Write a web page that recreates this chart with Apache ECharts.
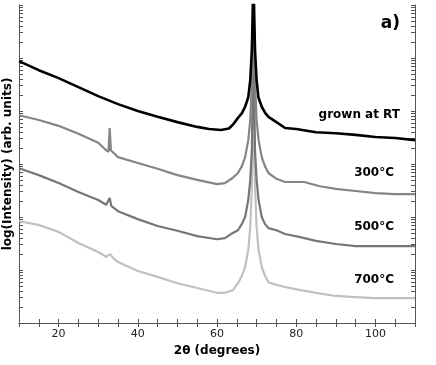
<!DOCTYPE html>
<html>
<head>
<meta charset="utf-8">
<script src="https://cdn.jsdelivr.net/npm/echarts@6/dist/echarts.min.js"></script>
<style>
  html, body { margin: 0; padding: 0; background: #fff; }
  #chart { width: 436px; height: 365px; }
</style>
</head>
<body>
<div id="chart"></div>
<script>
// 2theta (degrees) and log10(intensity) in decades
const rtTheta = [10, 15, 20, 25, 30, 35, 40, 45, 50, 55, 58, 61, 63, 64, 65.3, 66.3, 67.1, 67.9, 68.4, 68.8, 69.0, 69.2, 69.4, 69.6, 70.0, 70.45, 71.3, 72.2, 73, 75, 77.2, 80, 85, 90, 95, 100, 105, 110];
const rtLog   = [4.94, 4.77, 4.62, 4.45, 4.28, 4.13, 4.00, 3.89, 3.79, 3.70, 3.66, 3.64, 3.67, 3.74, 3.87, 3.96, 4.08, 4.26, 4.58, 5.15, 5.81, 6.66, 5.81, 5.15, 4.58, 4.26, 4.08, 3.96, 3.89, 3.79, 3.68, 3.66, 3.60, 3.58, 3.55, 3.51, 3.49, 3.45];

const t300Theta = [10, 15, 20, 25, 30, 32, 32.6, 32.9, 33.2, 35, 40, 45, 50, 55, 60, 62, 64, 65.3, 66.3, 67.1, 67.9, 68.4, 68.8, 69.0, 69.2, 69.4, 69.6, 70.0, 70.5, 71.3, 72.1, 73, 75, 77.2, 82, 86, 90, 95, 100, 105, 110];
const t300Log   = [3.92, 3.83, 3.72, 3.57, 3.40, 3.26, 3.23, 3.68, 3.26, 3.13, 3.02, 2.91, 2.79, 2.70, 2.62, 2.64, 2.74, 2.83, 2.96, 3.13, 3.45, 3.83, 4.53, 5.34, 5.94, 5.34, 4.53, 3.83, 3.45, 3.13, 2.96, 2.83, 2.72, 2.66, 2.66, 2.58, 2.53, 2.49, 2.45, 2.43, 2.43];

const t500Theta = [10, 15, 20, 25, 30, 32, 32.9, 33.3, 35, 40, 45, 50, 55, 60, 62, 64, 65.3, 66.3, 67.1, 67.9, 68.4, 68.8, 69.0, 69.2, 69.4, 69.6, 70.0, 70.5, 71.3, 72.1, 73, 75, 77.2, 81, 85, 90, 95, 100, 105, 110];
const t500Log   = [2.92, 2.79, 2.64, 2.47, 2.32, 2.23, 2.36, 2.21, 2.11, 1.96, 1.83, 1.74, 1.64, 1.58, 1.60, 1.70, 1.75, 1.87, 2.00, 2.32, 2.70, 3.26, 4.21, 5.25, 4.21, 3.26, 2.70, 2.32, 2.00, 1.87, 1.79, 1.75, 1.68, 1.62, 1.55, 1.49, 1.45, 1.45, 1.45, 1.45];

const t700Theta = [10, 15, 20, 25, 30, 32, 33, 34, 35, 40, 45, 50, 55, 60, 62, 64, 65.3, 66.3, 67.1, 67.9, 68.4, 68.8, 69.0, 69.2, 69.4, 69.6, 70.0, 70.5, 71.3, 72.1, 73, 75, 77.2, 81, 85, 90, 95, 100, 105, 110];
const t700Log   = [1.92, 1.85, 1.72, 1.51, 1.34, 1.25, 1.30, 1.21, 1.15, 0.98, 0.87, 0.75, 0.66, 0.57, 0.57, 0.62, 0.75, 0.89, 1.06, 1.38, 1.81, 2.57, 3.40, 4.49, 3.40, 2.57, 1.81, 1.38, 1.06, 0.89, 0.77, 0.72, 0.68, 0.62, 0.57, 0.51, 0.49, 0.47, 0.47, 0.47];

const xTickLabels = [20, 40, 60, 80, 100];
const curveNames = ['grown at RT', '300\u00B0C', '500\u00B0C', '700\u00B0C'];

function pairs(xs, ys) { return xs.map((x, i) => [x, ys[i]]); }

// log axis ticks: 1..9 in every decade
const yTicks = [];
for (let n = 0; n < 6; n++) for (let k = 1; k < 10; k++) yTicks.push(n + Math.log10(k));
yTicks.push(6);

const font = 'DejaVu Sans';
const axisColor = '#555';

const chart = echarts.init(document.getElementById('chart'));

const xCommon = {
  type: 'value', min: 10, max: 110, interval: 5,
  axisLine: { lineStyle: { color: axisColor } },
  axisTick: { inside: true, length: 4, lineStyle: { color: axisColor } },
  splitLine: { show: false }
};
const yCommon = {
  type: 'value', min: 0, max: 6,
  axisLine: { show: true, lineStyle: { color: axisColor } },
  axisTick: { show: true, inside: true, length: 4, customValues: yTicks, lineStyle: { color: axisColor } },
  axisLabel: { show: false },
  splitLine: { show: false }
};

function line(name, data, color, width, z) {
  return {
    name: name, type: 'line', data: data, showSymbol: false, symbol: 'none',
    lineStyle: { color: color, width: width }, z: z, animation: false
  };
}

chart.setOption({
  animation: false,
  grid: { left: 19, right: 21, top: 5, bottom: 42, outerBoundsMode: 'none', containLabel: false },
  xAxis: [
    Object.assign({}, xCommon, {
      position: 'bottom',
      name: '2\u03B8 (degrees)', nameLocation: 'middle', nameGap: 20,
      nameTextStyle: { fontFamily: font, fontWeight: 'bold', fontSize: 12, color: '#000' },
      axisLabel: {
        fontFamily: font, fontSize: 11, color: '#222', margin: 6,
        formatter: v => xTickLabels.indexOf(v) >= 0 ? String(v) : ''
      }
    }),
    Object.assign({}, xCommon, { position: 'top', axisLabel: { show: false } })
  ],
  yAxis: [
    Object.assign({}, yCommon, {
      position: 'left',
      name: 'log(Intensity) (arb. units)', nameLocation: 'middle', nameGap: 5,
      nameTextStyle: { fontFamily: font, fontWeight: 'bold', fontSize: 12, color: '#000' }
    }),
    Object.assign({}, yCommon, { position: 'right' })
  ],
  series: [
    line(curveNames[3], pairs(t700Theta, t700Log), '#c0c0c0', 2.2, 1),
    line(curveNames[2], pairs(t500Theta, t500Log), '#767676', 2.2, 2),
    line(curveNames[1], pairs(t300Theta, t300Log), '#858585', 2.2, 3),
    line(curveNames[0], pairs(rtTheta, rtLog), '#000000', 2.6, 4)
  ],
  graphic: [
    { type: 'text', right: 36, top: 15, style: { text: 'a)', font: 'bold 17px "DejaVu Sans"', fill: '#000' } },
    { type: 'text', right: 36, top: 109, style: { text: curveNames[0], font: 'bold 12px "DejaVu Sans"', fill: '#000' } },
    { type: 'text', right: 42, top: 167, style: { text: curveNames[1], font: 'bold 12px "DejaVu Sans"', fill: '#000' } },
    { type: 'text', right: 42, top: 221, style: { text: curveNames[2], font: 'bold 12px "DejaVu Sans"', fill: '#000' } },
    { type: 'text', right: 42, top: 274, style: { text: curveNames[3], font: 'bold 12px "DejaVu Sans"', fill: '#000' } }
  ]
});
</script>
</body>
</html>
